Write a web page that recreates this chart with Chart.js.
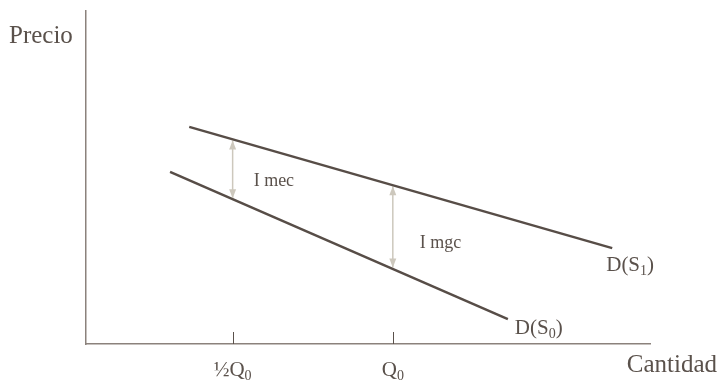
<!DOCTYPE html>
<html>
<head>
<meta charset="utf-8">
<script src="https://cdn.jsdelivr.net/npm/chart.js@4"></script>
<style>
  html, body { margin: 0; padding: 0; background: #fff; }
  #wrap { width: 718px; height: 381px; }
</style>
</head>
<body>
<div id="wrap"><canvas id="demand_chart"></canvas></div>
<script>
// schematic demand curves, x in quantity units (0-100), y in price units (0-100)
const curve_names = ["D(S1)", "D(S0)"]
const s1_x = [18.3, 93.3]
const s1_y = [65.2, 28.8]
const s0_x = [14.9, 74.8]
const s0_y = [51.7, 7.5]

// x ticks: half Q0 and Q0
const tick_values = [26, 54.4]
const tick_labels = ["½Q", "Q"]

// vertical gap arrows (x, top, bottom)
const gap_names = ["I mec", "I mgc"]
const gap_x = [26, 54.4]
const gap_top = [61.1, 47.4]
const gap_bottom = [43.8, 23.0]

const line_color = '#574d47'
const axis_color = '#8b827c'
const arrow_color = '#cdc8bd'
const text_color = '#5a514b'
const serif = '"Liberation Serif", "Times New Roman", serif'

function pts(xs, ys) {
  return xs.map((x, i) => ({x: x, y: ys[i]}))
}

// gap arrows as line segments, heads get added by the plugin
const gap_sets = gap_x.map((x, i) => ({
  label: gap_names[i],
  data: [{x: x, y: gap_top[i]}, {x: x, y: gap_bottom[i]}],
  borderColor: arrow_color,
  borderWidth: 1.5,
  pointRadius: 0,
  showLine: true
}))

// draw text with a subscript part, returns the end x
function sub_text(ctx, main, sub, x, y, size, align) {
  const small = Math.round(size * 0.68)
  ctx.font = size + 'px ' + serif
  const w1 = ctx.measureText(main).width
  ctx.font = small + 'px ' + serif
  const w2 = ctx.measureText(sub).width
  let left = x
  if (align === 'center') left = x - (w1 + w2) / 2
  ctx.textAlign = 'left'
  ctx.font = size + 'px ' + serif
  ctx.fillText(main, left, y)
  ctx.font = small + 'px ' + serif
  ctx.fillText(sub, left + w1, y + size * 0.18)
  ctx.font = size + 'px ' + serif
  return left + w1 + w2
}

const extras = {
  id: 'extras',
  afterDatasetsDraw(chart) {
    const ctx = chart.ctx
    const xs = chart.scales.x
    const ys = chart.scales.y
    const area = chart.chartArea
    ctx.save()

    // tick marks pointing up from the x axis
    ctx.strokeStyle = '#5a514b'
    ctx.lineWidth = 1
    tick_values.forEach(v => {
      const px = Math.round(xs.getPixelForValue(v)) + 0.5
      ctx.beginPath()
      ctx.moveTo(px, area.bottom)
      ctx.lineTo(px, area.bottom - 12)
      ctx.stroke()
    })

    // arrow heads
    ctx.fillStyle = arrow_color
    gap_x.forEach((x, i) => {
      const px = xs.getPixelForValue(x)
      const top = ys.getPixelForValue(gap_top[i])
      const bot = ys.getPixelForValue(gap_bottom[i])
      ctx.beginPath()
      ctx.moveTo(px, top)
      ctx.lineTo(px - 3.5, top + 9)
      ctx.lineTo(px + 3.5, top + 9)
      ctx.closePath()
      ctx.fill()
      ctx.beginPath()
      ctx.moveTo(px, bot)
      ctx.lineTo(px - 3.5, bot - 9)
      ctx.lineTo(px + 3.5, bot - 9)
      ctx.closePath()
      ctx.fill()
    })

    ctx.fillStyle = text_color
    ctx.textBaseline = 'alphabetic'

    // gap labels
    ctx.font = '18px ' + serif
    ctx.textAlign = 'left'
    ctx.fillText(gap_names[0], xs.getPixelForValue(gap_x[0]) + 21, 186)
    ctx.fillText(gap_names[1], xs.getPixelForValue(gap_x[1]) + 27, 248)

    // tick labels
    tick_values.forEach((v, i) => {
      sub_text(ctx, tick_labels[i], '0', xs.getPixelForValue(v), 376, 21, 'center')
    })

    // curve labels
    let end = sub_text(ctx, 'D(S', '1', xs.getPixelForValue(s1_x[1]) - 6, 271, 21, 'left')
    ctx.fillText(')', end, 271)
    end = sub_text(ctx, 'D(S', '0', xs.getPixelForValue(s0_x[1]) + 7, 334, 21, 'left')
    ctx.fillText(')', end, 334)

    // axis titles
    ctx.font = '25px ' + serif
    ctx.textAlign = 'left'
    ctx.fillText('Precio', 9, 43)
    ctx.textAlign = 'right'
    ctx.fillText('Cantidad', 717, 372)

    ctx.restore()
  }
}

new Chart(document.getElementById('demand_chart'), {
  type: 'scatter',
  data: {
    datasets: [
      {
        label: curve_names[0],
        data: pts(s1_x, s1_y),
        borderColor: line_color,
        borderWidth: 2.5,
        pointRadius: 0,
        showLine: true
      },
      {
        label: curve_names[1],
        data: pts(s0_x, s0_y),
        borderColor: line_color,
        borderWidth: 2.5,
        pointRadius: 0,
        showLine: true
      }
    ].concat(gap_sets)
  },
  options: {
    responsive: true,
    maintainAspectRatio: false,
    animation: false,
    layout: { padding: { left: 78, right: 68, top: 11, bottom: 29 } },
    plugins: { legend: { display: false }, tooltip: { enabled: false } },
    scales: {
      x: {
        type: 'linear',
        min: 0, max: 100,
        grid: { display: false },
        ticks: { display: false },
        border: { display: true, color: axis_color, width: 1.5 }
      },
      y: {
        type: 'linear',
        min: 0, max: 100,
        grid: { display: false },
        ticks: { display: false },
        border: { display: true, color: axis_color, width: 1.5 }
      }
    }
  },
  plugins: [extras]
})
</script>
</body>
</html>
